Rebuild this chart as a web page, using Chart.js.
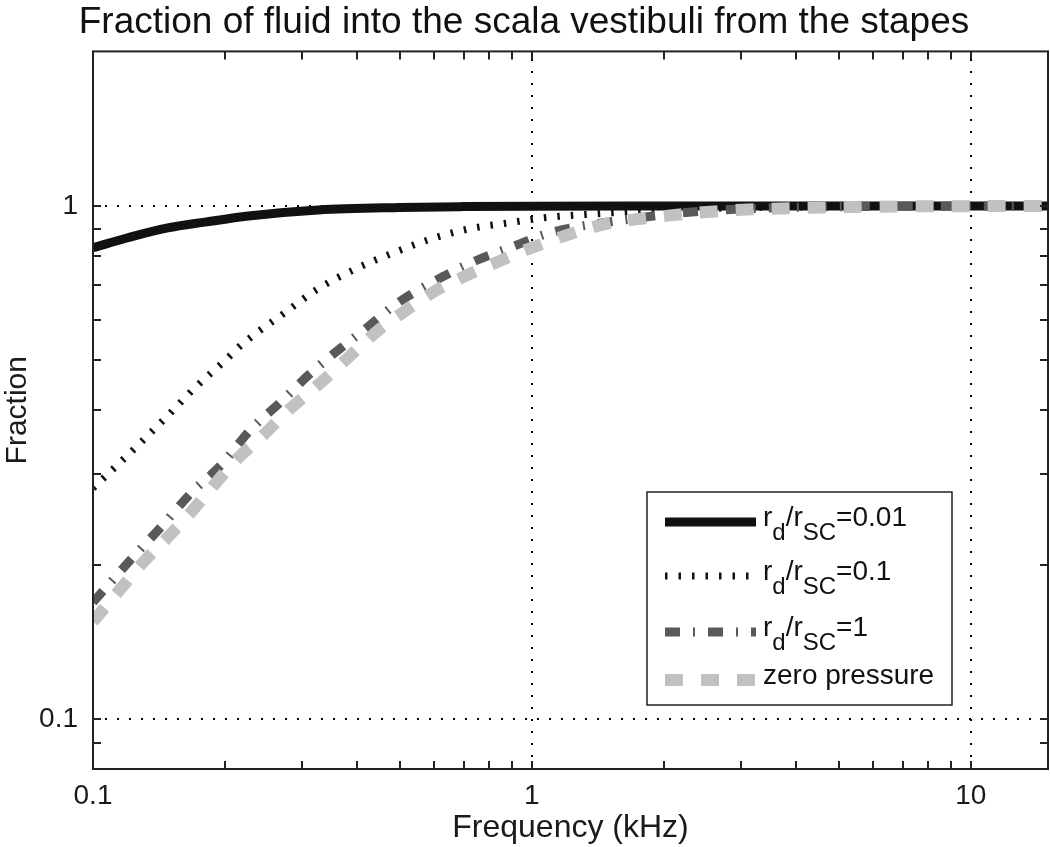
<!DOCTYPE html>
<html>
<head>
<meta charset="utf-8">
<script src="https://cdn.jsdelivr.net/npm/chart.js@4.4.1/dist/chart.umd.min.js"></script>
<style>
  html, body { margin: 0; padding: 0; background: #fff; }
</style>
</head>
<body>
<canvas id="chart" width="1050" height="847"></canvas>
<script>
// texts
const chartTitle = 'Fraction of fluid into the scala vestibuli from the stapes';
const xTitle = 'Frequency (kHz)';
const yTitle = 'Fraction';

// axis ticks (log scales)
const xMajor = [0.1, 1, 10];
const xMinor = [0.2, 0.3, 0.4, 0.5, 0.6, 0.7, 0.8, 0.9, 2, 3, 4, 5, 6, 7, 8, 9];
const yMajor = [0.1, 1];
const yMinor = [0.09, 0.2, 0.3, 0.4, 0.5, 0.6, 0.7, 0.8, 0.9];

// rd/rSC = 0.01
const freqA = [0.1, 0.12, 0.148, 0.18, 0.226, 0.326, 0.5, 0.7, 1, 2, 5, 15];
const fracA = [0.829, 0.867, 0.906, 0.93, 0.956, 0.982, 0.993, 0.997, 0.999, 1, 1, 1];

// rd/rSC = 0.1
const freqB = [0.1, 0.1267, 0.1483, 0.171, 0.2, 0.22, 0.274, 0.326, 0.402, 0.483, 0.591, 0.718, 0.886, 1.065, 1.5, 1.94, 3, 5, 15];
const fracB = [0.282, 0.342, 0.391, 0.443, 0.5, 0.54, 0.62, 0.69, 0.758, 0.81, 0.863, 0.902, 0.927, 0.948, 0.969, 0.982, 0.992, 0.997, 1];

// rd/rSC = 1
const freqC = [0.1, 0.1234, 0.143, 0.1674, 0.196, 0.2283, 0.2673, 0.3146, 0.3683, 0.4134, 0.4917, 0.591, 0.745, 0.9, 1.093, 1.692, 2.496, 4.4, 15];
const fracC = [0.169, 0.207, 0.237, 0.276, 0.313, 0.366, 0.4145, 0.474, 0.53, 0.572, 0.645, 0.709, 0.782, 0.832, 0.885, 0.944, 0.978, 0.995, 1];

// zero pressure
const freqD = [0.1, 0.1153, 0.13, 0.1476, 0.1674, 0.212, 0.2444, 0.2788, 0.3212, 0.382, 0.452, 0.524, 0.6037, 0.707, 0.8276, 0.984, 1.476, 1.849, 2.715, 5.3, 15];
const fracD = [0.155, 0.179, 0.202, 0.2256, 0.2534, 0.32, 0.3577, 0.3999, 0.4431, 0.507, 0.577, 0.631, 0.684, 0.731, 0.775, 0.825, 0.923, 0.948, 0.978, 0.995, 1];

// legend entries: [text, isSubscript]
const legendA = [['r', 0], ['d', 1], ['/r', 0], ['SC', 1], ['=0.01', 0]];
const legendB = [['r', 0], ['d', 1], ['/r', 0], ['SC', 1], ['=0.1', 0]];
const legendC = [['r', 0], ['d', 1], ['/r', 0], ['SC', 1], ['=1', 0]];
const legendD = [['zero pressure', 0]];

const FONT = '"Liberation Sans", Arial, Helvetica, sans-serif';

const pts = (xs, ys) => xs.map((v, i) => ({ x: v, y: ys[i] }));

const datasets = [
  { data: pts(freqD, fracD), borderColor: '#c1c1c4', borderWidth: 12, borderDash: [18, 18], order: 0, legend: legendD },
  { data: pts(freqC, fracC), borderColor: '#595959', borderWidth: 9, borderDash: [15, 13, 2, 13], order: 1, legend: legendC },
  { data: pts(freqB, fracB), borderColor: '#111', borderWidth: 7, borderDash: [2.5, 11], order: 2, legend: legendB },
  { data: pts(freqA, fracA), borderColor: '#111', borderWidth: 9, borderDash: [], order: 3, legend: legendA }
];
datasets.forEach(d => {
  d.pointRadius = 0;
  d.fill = false;
  d.borderCapStyle = 'butt';
  d.cubicInterpolationMode = 'monotone';
});

function line(ctx, x1, y1, x2, y2) {
  ctx.beginPath();
  ctx.moveTo(x1, y1);
  ctx.lineTo(x2, y2);
  ctx.stroke();
}

const framePlugin = {
  id: 'frame',
  beforeDatasetsDraw(chart) {
    const { ctx, chartArea: a, scales: { x, y } } = chart;
    ctx.save();
    ctx.strokeStyle = '#000';
    ctx.lineWidth = 2;
    ctx.setLineDash([2, 10]);
    xMajor.slice(1).forEach(v => {
      const px = Math.round(x.getPixelForValue(v));
      line(ctx, px, a.bottom, px, a.top);
    });
    yMajor.forEach(v => {
      const py = Math.round(y.getPixelForValue(v));
      line(ctx, a.left, py, a.right, py);
    });
    ctx.restore();
  },
  afterDatasetsDraw(chart) {
    const { ctx, chartArea: a, scales: { x, y } } = chart;
    ctx.save();
    ctx.strokeStyle = '#222';
    ctx.lineWidth = 2;
    ctx.strokeRect(a.left, a.top, a.right - a.left, a.bottom - a.top);
    const len = 8;
    xMinor.concat(xMajor.slice(1)).forEach(v => {
      const px = Math.round(x.getPixelForValue(v));
      line(ctx, px, a.bottom, px, a.bottom - len);
      line(ctx, px, a.top, px, a.top + len);
    });
    yMinor.concat(yMajor).forEach(v => {
      const py = Math.round(y.getPixelForValue(v));
      line(ctx, a.left, py, a.left + len, py);
      line(ctx, a.right, py, a.right - len, py);
    });
    ctx.restore();
  },
  afterDraw(chart) {
    const { ctx } = chart;
    const box = { left: 647, top: 492, right: 952, bottom: 705 };
    ctx.save();
    ctx.fillStyle = '#fff';
    ctx.fillRect(box.left, box.top, box.right - box.left, box.bottom - box.top);
    ctx.strokeStyle = '#222';
    ctx.lineWidth = 1.5;
    ctx.strokeRect(box.left, box.top, box.right - box.left, box.bottom - box.top);

    const rows = [522, 576, 632, 680];
    const order = [3, 2, 1, 0];
    order.forEach((di, r) => {
      const ds = chart.data.datasets[di];
      const yc = rows[r];
      ctx.save();
      ctx.strokeStyle = ds.borderColor;
      ctx.lineWidth = ds.borderWidth;
      ctx.lineCap = 'butt';
      ctx.setLineDash(ds.borderDash);
      line(ctx, 665, yc, 756, yc);
      ctx.restore();

      let tx = 763;
      ctx.fillStyle = '#111';
      ctx.textBaseline = 'alphabetic';
      ds.legend.forEach(([t, sub]) => {
        ctx.font = (sub ? '24px ' : '28px ') + FONT;
        ctx.fillText(t, tx, yc + 4 + (sub ? 14 : 0));
        tx += ctx.measureText(t).width;
      });
    });
    ctx.restore();
  }
};

new Chart(document.getElementById('chart'), {
  type: 'line',
  data: { datasets },
  plugins: [framePlugin],
  options: {
    responsive: false,
    devicePixelRatio: 1,
    animation: false,
    layout: { padding: { left: 0, right: 2, top: 0, bottom: 0 } },
    plugins: {
      legend: { display: false },
      tooltip: { enabled: false },
      title: {
        display: true,
        text: chartTitle,
        color: '#111',
        font: { family: FONT, size: 37, weight: 'normal' },
        padding: { top: 1, bottom: 6 }
      }
    },
    scales: {
      x: {
        type: 'logarithmic',
        min: 0.1,
        max: 15,
        afterBuildTicks: s => { s.ticks = xMajor.map(v => ({ value: v })); },
        afterFit: s => { s.height = 78; },
        grid: { display: false, drawTicks: false },
        border: { display: false },
        ticks: {
          autoSkip: false,
          maxRotation: 0,
          padding: 10,
          color: '#1a1a1a',
          font: { family: FONT, size: 28 },
          callback: v => String(v)
        },
        title: {
          display: true,
          text: xTitle,
          color: '#1a1a1a',
          font: { family: FONT, size: 32 },
          padding: { top: 0, bottom: 0 }
        }
      },
      y: {
        type: 'logarithmic',
        min: 0.08,
        max: 2,
        afterBuildTicks: s => { s.ticks = yMajor.map(v => ({ value: v })); },
        afterFit: s => { s.width = 93; },
        grid: { display: false, drawTicks: false },
        border: { display: false },
        ticks: {
          autoSkip: false,
          padding: 15,
          color: '#1a1a1a',
          font: { family: FONT, size: 28 },
          callback: v => String(v)
        },
        title: {
          display: true,
          text: yTitle,
          color: '#1a1a1a',
          font: { family: FONT, size: 30 },
          padding: { top: 0, bottom: 0 }
        }
      }
    }
  }
});
</script>
</body>
</html>
